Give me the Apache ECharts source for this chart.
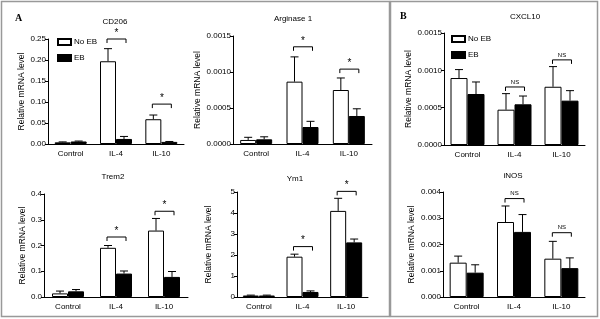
<!DOCTYPE html>
<html>
<head>
<meta charset="utf-8">
<script src="https://cdn.jsdelivr.net/npm/echarts@6/dist/echarts.min.js"></script>
<style>
  html, body { margin: 0; padding: 0; background: #fff; }
  #chart { width: 600px; height: 319px; }
</style>
</head>
<body>
<div id="chart"></div>
<script>
// Datos
const categories = ['Control', 'IL-4', 'IL-10'];

// CD206
const cd206NoEB = [0.004, 0.197, 0.059];
const cd206NoEBSem = [0.001, 0.030, 0.010];
const cd206EB = [0.006, 0.012, 0.005];
const cd206EBSem = [0.001, 0.006, 0.001];
const cd206Sig = [null, 0.25, 0.095];
const cd206Ticks = [0, 0.05, 0.10, 0.15, 0.20, 0.25];

// Arginase 1
const arg1NoEB = [0.000056, 0.000866, 0.00075];
const arg1NoEBSem = [0.000037, 0.000344, 0.000167];
const arg1EB = [0.000065, 0.000236, 0.000389];
const arg1EBSem = [0.000035, 0.000079, 0.0001];
const arg1Sig = [null, 0.00135, 0.00104];
const arg1Ticks = [0, 0.0005, 0.0010, 0.0015];

// Trem2
const trem2NoEB = [0.014, 0.191, 0.258];
const trem2NoEBSem = [0.009, 0.009, 0.047];
const trem2EB = [0.022, 0.091, 0.078];
const trem2EBSem = [0.007, 0.010, 0.021];
const trem2Sig = [null, 0.233, 0.333];
const trem2Ticks = [0, 0.1, 0.2, 0.3, 0.4];

// Ym1
const ym1NoEB = [0.07, 1.92, 4.1];
const ym1NoEBSem = [0.02, 0.12, 0.6];
const ym1EB = [0.07, 0.24, 2.6];
const ym1EBSem = [0.02, 0.05, 0.16];
const ym1Sig = [null, 2.4, 5.03];
const ym1Ticks = [0, 1, 2, 3, 4, 5];

// CXCL10
const cxcl10NoEB = [0.000897, 0.000473, 0.00078];
const cxcl10NoEBSem = [0.000113, 0.000215, 0.00027];
const cxcl10EB = [0.000683, 0.000545, 0.000594];
const cxcl10EBSem = [0.000161, 0.000111, 0.000134];
const cxcl10Sig = [null, 0.000777, 0.00114];
const cxcl10Ticks = [0, 0.0005, 0.0010, 0.0015];

// iNOS
const inosNoEB = [0.001308, 0.002857, 0.00146];
const inosNoEBSem = [0.00025, 0.00061, 0.00066];
const inosEB = [0.000927, 0.00248, 0.0011];
const inosEBSem = [0.0003, 0.00066, 0.00039];
const inosSig = [null, 0.00375, 0.00245];
const inosTicks = [0, 0.001, 0.002, 0.003, 0.004];

const chart = echarts.init(document.getElementById('chart'));
const FONT = 'Liberation Sans, Arial, sans-serif';

const panels = [
  {title: 'CD206', noEB: cd206NoEB, noEBSem: cd206NoEBSem, eb: cd206EB, ebSem: cd206EBSem, sig: cd206Sig, mark: '*', ticks: cd206Ticks, digits: 2,
   grid: {left: 48, top: 39, width: 136, height: 105}, nameGap: 22, bw: 16, titlePos: [115, 18]},
  {title: 'Arginase 1', noEB: arg1NoEB, noEBSem: arg1NoEBSem, eb: arg1EB, ebSem: arg1EBSem, sig: arg1Sig, mark: '*', ticks: arg1Ticks, digits: 4,
   grid: {left: 233, top: 36, width: 139, height: 108}, nameGap: 31, bw: 16, titlePos: [293, 15]},
  {title: 'Trem2', noEB: trem2NoEB, noEBSem: trem2NoEBSem, eb: trem2EB, ebSem: trem2EBSem, sig: trem2Sig, mark: '*', ticks: trem2Ticks, digits: 1,
   grid: {left: 44, top: 194, width: 144, height: 103}, nameGap: 15, bw: 16, titlePos: [113, 173]},
  {title: 'Ym1', noEB: ym1NoEB, noEBSem: ym1NoEBSem, eb: ym1EB, ebSem: ym1EBSem, sig: ym1Sig, mark: '*', ticks: ym1Ticks, digits: 0,
   grid: {left: 237, top: 192, width: 131, height: 105}, nameGap: 25, bw: 16, titlePos: [295, 175]},
  {title: 'CXCL10', noEB: cxcl10NoEB, noEBSem: cxcl10NoEBSem, eb: cxcl10EB, ebSem: cxcl10EBSem, sig: cxcl10Sig, mark: 'NS', ticks: cxcl10Ticks, digits: 4,
   grid: {left: 444, top: 33, width: 141, height: 112}, nameGap: 28, bw: 17, titlePos: [525, 13]},
  {title: 'iNOS', noEB: inosNoEB, noEBSem: inosNoEBSem, eb: inosEB, ebSem: inosEBSem, sig: inosSig, mark: 'NS', ticks: inosTicks, digits: 3,
   grid: {left: 443, top: 192, width: 142, height: 105}, nameGap: 28, bw: 17, titlePos: [513, 172]}
];

// barras de error (solo hacia arriba, con tope)
function errorRenderer(offset) {
  return function (params, api) {
    const base = api.coord([api.value(0), api.value(1)]);
    const top = api.coord([api.value(0), api.value(2)]);
    const x = base[0] + offset;
    return {
      type: 'group',
      children: [
        {type: 'line', shape: {x1: x, y1: base[1], x2: x, y2: top[1]}, style: {stroke: '#000', lineWidth: 1}},
        {type: 'line', shape: {x1: x - 4, y1: top[1], x2: x + 4, y2: top[1]}, style: {stroke: '#000', lineWidth: 1}}
      ]
    };
  };
}

// corchetes de significancia
function bracketRenderer(mark) {
  return function (params, api) {
    const p = api.coord([api.value(0), api.value(1)]);
    const x1 = p[0] - 9, x2 = p[0] + 10, y = p[1];
    const isStar = mark === '*';
    return {
      type: 'group',
      children: [
        {type: 'polyline', shape: {points: [[x1, y + 4], [x1, y], [x2, y], [x2, y + 4]]}, style: {stroke: '#000', fill: null, lineWidth: 1}},
        {type: 'text', x: (x1 + x2) / 2, y: isStar ? y - 1 : y - 2,
         style: {text: mark, fill: '#000', font: (isStar ? '10px ' : '6px ') + FONT, align: 'center', verticalAlign: 'bottom'}}
      ]
    };
  };
}

const grids = [], xAxes = [], yAxes = [], series = [], titles = [];

panels.forEach((p, i) => {
  grids.push(p.grid);
  xAxes.push({
    type: 'category', gridIndex: i, data: categories,
    axisLine: {lineStyle: {color: '#000', width: 1}},
    axisTick: {show: false},
    axisLabel: {color: '#000', fontSize: 8, fontFamily: FONT, margin: 6}
  });
  const step = p.ticks[1] - p.ticks[0];
  yAxes.push({
    type: 'value', gridIndex: i, min: p.ticks[0], max: p.ticks[p.ticks.length - 1], interval: step,
    name: 'Relative mRNA level', nameLocation: 'middle', nameGap: p.nameGap - 1,
    nameTextStyle: {color: '#000', fontSize: 8.5, fontFamily: FONT},
    axisLine: {show: true, lineStyle: {color: '#000', width: 1}},
    axisTick: {show: true, length: 3, lineStyle: {color: '#000'}},
    splitLine: {show: false},
    axisLabel: {color: '#000', fontSize: 8, fontFamily: FONT, margin: 2,
      formatter: v => v.toFixed(p.digits)}
  });
  series.push({
    name: 'No EB', type: 'bar', xAxisIndex: i, yAxisIndex: i, barWidth: p.bw, barGap: '0%',
    itemStyle: {color: '#fff', borderColor: '#000', borderWidth: 1},
    data: p.noEB, z: 2
  });
  series.push({
    name: 'EB', type: 'bar', xAxisIndex: i, yAxisIndex: i, barWidth: p.bw, barGap: '0%',
    itemStyle: {color: '#000', borderColor: '#000', borderWidth: 1},
    data: p.eb, z: 2
  });
  series.push({
    type: 'custom', xAxisIndex: i, yAxisIndex: i, z: 3,
    renderItem: errorRenderer(-p.bw / 2),
    data: categories.map((c, k) => [k, p.noEB[k], p.noEB[k] + p.noEBSem[k]])
  });
  series.push({
    type: 'custom', xAxisIndex: i, yAxisIndex: i, z: 3,
    renderItem: errorRenderer(p.bw / 2),
    data: categories.map((c, k) => [k, p.eb[k], p.eb[k] + p.ebSem[k]])
  });
  series.push({
    type: 'custom', xAxisIndex: i, yAxisIndex: i, z: 4, clip: false,
    renderItem: bracketRenderer(p.mark),
    data: p.sig.map((v, k) => v === null ? null : [k, v]).filter(d => d !== null)
  });
  titles.push({
    text: p.title, left: p.titlePos[0], top: p.titlePos[1], textAlign: 'center', padding: 0,
    textStyle: {fontSize: 8, fontWeight: 'normal', color: '#000', fontFamily: FONT}
  });
});

titles.push({text: 'A', left: 15, top: 13, padding: 0, textStyle: {fontSize: 10, fontWeight: 'bold', color: '#000', fontFamily: 'Liberation Serif, serif'}});
titles.push({text: 'B', left: 400, top: 11, padding: 0, textStyle: {fontSize: 10, fontWeight: 'bold', color: '#000', fontFamily: 'Liberation Serif, serif'}});

const legendBase = {
  data: ['No EB', 'EB'], orient: 'vertical', icon: 'rect',
  itemWidth: 13, itemHeight: 6, itemGap: 8,
  textStyle: {fontSize: 8, color: '#000', fontFamily: FONT, padding: [0, 0, 0, -2]},
  padding: 0, selectedMode: false
};

const option = {
  animation: false,
  backgroundColor: '#fff',
  title: titles,
  legend: [
    Object.assign({left: 57, top: 38}, legendBase),
    Object.assign({left: 451, top: 35}, legendBase)
  ],
  grid: grids,
  xAxis: xAxes,
  yAxis: yAxes,
  series: series,
  graphic: [
    {type: 'rect', shape: {x: 1.5, y: 1.5, width: 388, height: 315}, style: {fill: null, stroke: '#999', lineWidth: 1.5}, silent: true},
    {type: 'rect', shape: {x: 390.5, y: 1.5, width: 207, height: 315}, style: {fill: null, stroke: '#999', lineWidth: 1.5}, silent: true}
  ]
};

chart.setOption(option);
</script>
</body>
</html>
